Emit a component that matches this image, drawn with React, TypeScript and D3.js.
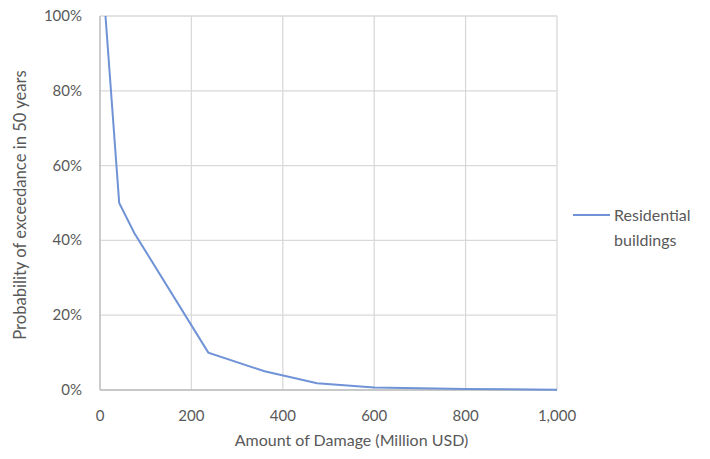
import React from "react";
import * as d3 from "d3";

const damage = [12, 42, 75, 237, 360, 475, 600, 800, 1000];
const probability = [1.0, 0.5, 0.42, 0.1, 0.05, 0.018, 0.007, 0.003, 0.001];
const xTicks = [0, 200, 400, 600, 800, 1000];
const yTicks = [0, 0.2, 0.4, 0.6, 0.8, 1.0];
const seriesName = ["Residential", "buildings"];

export default function App() {
  const W = 710, H = 459;
  const x = d3.scaleLinear().domain([0, 1000]).range([100, 557]);
  const y = d3.scaleLinear().domain([0, 1]).range([390, 16]);
  const line = d3.line<number>().x((d, i) => x(damage[i])).y((d) => y(d));
  const font = "Lato, 'Open Sans', sans-serif";
  const grey = "#595959";
  return (
    <svg width={W} height={H} style={{ position: "absolute", left: 0, top: 0, background: "#fff" }}>
      {xTicks.map((t) => (
        <line key={"gx" + t} x1={x(t)} x2={x(t)} y1={y(1)} y2={y(0)} stroke="#d9d9d9" strokeWidth={1.3} />
      ))}
      {yTicks.map((t) => (
        <line key={"gy" + t} x1={x(0)} x2={x(1000)} y1={y(t)} y2={y(t)} stroke="#d9d9d9" strokeWidth={1.3} />
      ))}
      <line x1={x(0)} x2={x(0)} y1={y(1)} y2={y(0)} stroke="#bfbfbf" strokeWidth={1.3} />
      <line x1={x(0)} x2={x(1000)} y1={y(0)} y2={y(0)} stroke="#bfbfbf" strokeWidth={1.3} />
      <path d={line(probability) || ""} fill="none" stroke="#6f93d6" strokeWidth={2} />
      {xTicks.map((t) => (
        <text key={"tx" + t} x={x(t)} y={421} textAnchor="middle" fontFamily={font} fontSize={15} fill={grey}>
          {d3.format(",")(t)}
        </text>
      ))}
      {yTicks.map((t) => (
        <text key={"ty" + t} x={82} y={y(t) + 5} textAnchor="end" fontFamily={font} fontSize={15} fill={grey}>
          {d3.format(".0%")(t)}
        </text>
      ))}
      <text x={(x(0) + x(1000)) / 2 + 23} y={446} textAnchor="middle" fontFamily={font} fontSize={16} fill={grey}>
        Amount of Damage (Million USD)
      </text>
      <text transform="translate(26,205) rotate(-90)" textAnchor="middle" fontFamily={font} fontSize={16.6} fill={grey}>
        Probability of exceedance in 50 years
      </text>
      <line x1={573} x2={610} y1={215} y2={215} stroke="#6f93d6" strokeWidth={2} />
      <text x={614} y={221} fontFamily={font} fontSize={16} fill={grey}>{seriesName[0]}</text>
      <text x={614} y={246} fontFamily={font} fontSize={16} fill={grey}>{seriesName[1]}</text>
    </svg>
  );
}
